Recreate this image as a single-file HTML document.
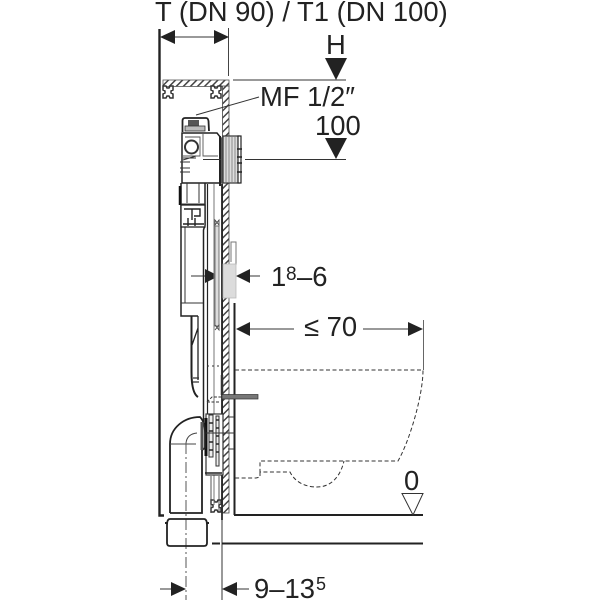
<!DOCTYPE html>
<html><head><meta charset="utf-8"><style>
html,body{margin:0;padding:0;background:#fff}
svg{display:block}
text{font-family:"Liberation Sans",sans-serif;fill:#222;font-size:27.4px}
</style></head><body>
<svg width="600" height="600" viewBox="0 0 600 600" xmlns="http://www.w3.org/2000/svg">
<defs>
<pattern id="h" width="5" height="5" patternUnits="userSpaceOnUse" patternTransform="rotate(-45)">
<rect width="5" height="5" fill="#fff"/><rect width="5" height="1.500" fill="#444"/>
</pattern>
<g id="clip"><path d="M-5-6h3l1 2h2l1-2h3v4l-2 1v2l2 1v4h-3l-1-2h-2l-1 2h-3v-4l2-1v-2l-2-1z" fill="#fff" stroke="#333" stroke-width="1.500"/></g>
</defs>

<!-- text -->
<text x="155" y="21">T (DN 90) / T1 (DN 100)</text>
<text x="326" y="54">H</text>
<text x="260" y="106">MF 1/2″</text>
<text x="315" y="135">100</text>
<text x="271" y="286">1</text><text x="286" y="280" style="font-size:19px">8</text><text x="297" y="286">–6</text>
<text x="304" y="336">≤ 70</text>
<text x="404" y="490">0</text>
<text x="254" y="598">9–13</text><text x="316" y="590" style="font-size:18px">5</text>

<!-- walls -->
<path d="M159.500 29V515.500H164" fill="none" stroke="#222" stroke-width="2.400"/>
<path d="M228.500 28V76" stroke="#444" stroke-width="1"/>
<rect x="163" y="80" width="66" height="6.500" fill="url(#h)" stroke="#555" stroke-width=".8"/>
<rect x="222.500" y="86" width="6.500" height="427" fill="url(#h)" stroke="#444" stroke-width=".8"/>
<path d="M233 80H346M245 159.500H346" stroke="#333" stroke-width="1"/>
<use href="#clip" x="168" y="92"/><use href="#clip" x="216" y="92"/><use href="#clip" x="216" y="506"/>
<path d="M196 115L259 97" stroke="#333" stroke-width="1"/>

<!-- dimension arrows -->
<path d="M175 37H214" stroke="#333" stroke-width="1"/>
<path d="M160 37L175 30V44zM229 37L214 30V44z" fill="#222"/>
<path d="M325 58H347L336 80zM325 138H347L336 159z" fill="#222"/>
<path d="M191 276H205M250 276H260M250 329H294M363 329H408" stroke="#333" stroke-width="1"/>
<path d="M219 276L205 269V283zM236 276L250 269V283zM236 329L250 322V336zM423 329L408 322V336z" fill="#222"/>
<path d="M423.500 320V370" stroke="#666" stroke-width="1"/>
<path d="M160 589H171M237 589H249" stroke="#333" stroke-width="1"/>
<path d="M186 589L171 582V596zM222 589L237 582V596z" fill="#222"/>

<!-- upper module -->
<path d="M182.500 132V121Q182.500 118 185 118H206Q208 118 208.500 121L209 131" fill="#fff" stroke="#222" stroke-width="1.800"/>
<rect x="188" y="120" width="11" height="6" fill="#555"/><rect x="185" y="126" width="20" height="5" fill="#bbb" stroke="#333" stroke-width=".8"/>
<path d="M182 133H217L221 138V183H182z" fill="#fff" stroke="#222" stroke-width="1.500"/>
<path d="M220 136V186" stroke="#222" stroke-width="2"/>
<circle cx="191.500" cy="147" r="6.500" fill="#fff" stroke="#333" stroke-width="2"/>
<path d="M185 137H200V156H183M203 134V156H218" fill="none" stroke="#555" stroke-width=".9"/>
<path d="M183 160L196 156M183 158H196M180 162H190M180 168H190M180 172H190M203 159.500H221" stroke="#333" stroke-width="1"/>
<!-- flange -->
<rect x="223" y="136" width="16" height="47" fill="#ddd" stroke="#333" stroke-width="1.200"/>
<path d="M226 136V183M229 136V183M232 136V183M235 136V183" stroke="#777" stroke-width=".8"/>
<rect x="238" y="136" width="3" height="47" fill="#fff" stroke="#222" stroke-width="1.200"/>
<path d="M237 149h5M237 157h5M237 163h5M237 172h5" stroke="#222" stroke-width="1.500"/>
<!-- cistern -->
<path d="M181 183V316H198M205 183V225L203.500 230V422" fill="none" stroke="#222" stroke-width="1.500"/>
<path d="M180 186V205" stroke="#111" stroke-width="2.500"/>
<path d="M187 183V203M199 183V203M181 204H205M185 226V303M181 303H203" fill="none" stroke="#333" stroke-width="1"/>
<rect x="181" y="205" width="24" height="22" fill="#fff" stroke="#222" stroke-width="1.300"/>
<path d="M184 209H192V220M192 209H200V216H194M183 224H204M188 218V226M195 218V226" fill="none" stroke="#222" stroke-width="1.400"/>
<path d="M207.500 184V420" stroke="#222" stroke-width="1.200"/>
<path d="M214 184V505" stroke="#777" stroke-width="1"/>
<rect x="215" y="226" width="4" height="100" fill="#ddd" stroke="#666" stroke-width=".9"/>
<path d="M215 220l4 5v-5l-4 5zM215 325l4 5v-5l-4 5" fill="none" stroke="#444" stroke-width=".9"/>
<path d="M222 184V520" stroke="#222" stroke-width="1.800"/>
<!-- bracket & plate -->
<path d="M231 262V242H236V265" fill="#fff" stroke="#777" stroke-width="1"/>
<rect x="223" y="264" width="13" height="34" fill="#dcdcdc" stroke="#bbb" stroke-width=".8"/>
<path d="M234.500 303V515" stroke="#222" stroke-width="2"/>
<!-- hose -->
<path d="M191.500 316V372Q191.500 393 198 397" fill="none" stroke="#222" stroke-width="2"/>
<path d="M198 328L192 345M198 316V380" fill="none" stroke="#222" stroke-width="1.300"/>
<path d="M193 378h6M193 382h6" stroke="#333" stroke-width="1.200"/>
<!-- bolt -->
<rect x="222" y="394.500" width="36" height="4.500" fill="#777" stroke="#333" stroke-width=".7"/>
<path d="M207 402L212 397H222M207 402H219" fill="none" stroke="#333" stroke-width="1" stroke-dasharray="3 1.500"/>
<path d="M207 366h14" stroke="#333" stroke-width="1" stroke-dasharray="2 3"/>
<path d="M222 375V395" stroke="#333" stroke-width="2.500"/>
<!-- lower frame -->
<rect x="206" y="414" width="17" height="61" fill="#fff" stroke="#333" stroke-width="1.200"/>
<path d="M206 418V456" stroke="#111" stroke-width="3"/>
<path d="M209 415H213V457H209zM216 416h3v50h-3z" fill="#eee" stroke="#333" stroke-width="1"/>
<path d="M216 420h3M216 428h3M216 436h3M216 444h3M216 452h3M209 423h4M209 431h4M209 442h4M209 450h4" stroke="#222" stroke-width="1.600"/>
<path d="M206 433H235M228 417h6M228 449h6" stroke="#333" stroke-width="1"/>
<path d="M205 473H222" stroke="#222" stroke-width="1.500"/>
<path d="M211 476V513M219 476V513" stroke="#444" stroke-width=".9"/>
<!-- elbow -->
<path d="M170 513V444C170 428 184 417 200 417C203 420 205 425 205 433V448L202 450V513H170" fill="#fff" stroke="#222" stroke-width="1.800"/>
<path d="M202 422V450" stroke="#555" stroke-width="3"/>
<path d="M170 444H196M186 443Q187 434 197 433" fill="none" stroke="#444" stroke-width="1"/>
<path d="M186 443V600" stroke="#555" stroke-width="1" stroke-dasharray="11 3 2 3"/>
<path d="M222 500V600" stroke="#333" stroke-width="1"/>
<!-- cap -->
<path d="M167 525Q167 519 170 519H204Q207 519 207 525V543Q207 546 204 546H170Q167 546 167 543z" fill="none" stroke="#222" stroke-width="1.800"/>
<path d="M165 523h2M207 523h2" stroke="#222" stroke-width="2"/>
<!-- floor -->
<path d="M234 515H423" stroke="#222" stroke-width="2"/>
<path d="M212 543.500H220M222 543.500H423" stroke="#222" stroke-width="2"/>
<path d="M402 493.500H423L413 515z" fill="none" stroke="#333" stroke-width="1"/>
<!-- WC -->
<path d="M235 370H423C423 395 410 440 398 461H260V472H290C296 484 308 487 317 487C330 487 340 478 344 461M260 472V477L256 478H235" fill="none" stroke="#333" stroke-width="1" stroke-dasharray="4 2.500"/>
</svg>
</body></html>
